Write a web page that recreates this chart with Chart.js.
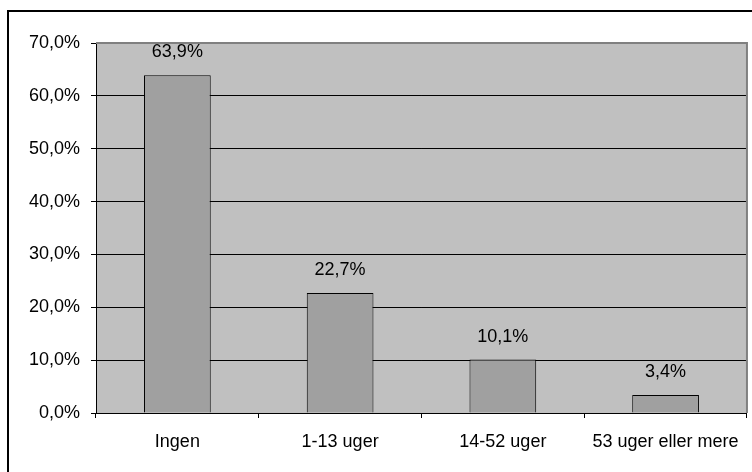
<!DOCTYPE html>
<html>
<head>
<meta charset="utf-8">
<script src="https://cdn.jsdelivr.net/npm/chart.js@4/dist/chart.umd.min.js"></script>
<style>
  html, body { margin: 0; padding: 0; background: #ffffff; }
  #wrap { position: relative; width: 752px; height: 472px; overflow: hidden; }
  canvas { display: block; }
</style>
</head>
<body>
<div id="wrap"><canvas id="c" width="752" height="472"></canvas></div>
<script>
// Duration categories and share of respondents (%)
const categories = ['Ingen', '1-13 uger', '14-52 uger', '53 uger eller mere'];
const shares = [63.9, 22.7, 10.1, 3.4];
const yTicks = [0, 10, 20, 30, 40, 50, 60, 70];

const FONT = '"Liberation Sans", Arial, sans-serif';
const FONT_SIZE = 18;
const pct = v => v.toFixed(1).replace('.', ',') + '%';

// Frame around the chart and grey plot background
const framePlugin = {
  id: 'frame',
  beforeDraw(chart) {
    const { ctx, chartArea: a } = chart;
    ctx.save();
    ctx.fillStyle = '#c0c0c0';
    ctx.fillRect(a.left, a.top, a.right - a.left, a.bottom - a.top);
    // outer frame (left and top edges)
    ctx.fillStyle = '#000000';
    ctx.fillRect(7, 10, 2, 472);
    ctx.fillRect(7, 10, 760, 2);
    ctx.restore();
  },
  afterDraw(chart) {
    const { ctx, chartArea: a } = chart;
    ctx.save();
    ctx.strokeStyle = '#808080';
    ctx.lineWidth = 2;
    ctx.beginPath();
    ctx.moveTo(a.left, a.top);
    ctx.lineTo(a.right, a.top);
    ctx.lineTo(a.right, a.bottom);
    ctx.stroke();
    ctx.restore();
  }
};

// Value labels above each bar
const valueLabels = {
  id: 'valueLabels',
  afterDatasetsDraw(chart) {
    const { ctx } = chart;
    const meta = chart.getDatasetMeta(0);
    ctx.save();
    ctx.font = FONT_SIZE + 'px ' + FONT;
    ctx.fillStyle = '#000000';
    ctx.textAlign = 'center';
    ctx.textBaseline = 'bottom';
    meta.data.forEach((bar, i) => {
      ctx.fillText(pct(shares[i]), bar.x, bar.y - 14);
    });
    ctx.restore();
  }
};

new Chart(document.getElementById('c'), {
  type: 'bar',
  data: {
    labels: categories,
    datasets: [{
      data: shares,
      backgroundColor: '#a0a0a0',
      borderColor: '#000000',
      borderWidth: 1,
      categoryPercentage: 1,
      barPercentage: 0.41
    }]
  },
  options: {
    responsive: false,
    animation: false,
    devicePixelRatio: 1,
    layout: { padding: { left: 0, top: 43, right: 3, bottom: 0 } },
    plugins: {
      legend: { display: false },
      tooltip: { enabled: false },
      title: { display: false }
    },
    scales: {
      x: {
        grid: {
          drawOnChartArea: false,
          drawTicks: true,
          tickLength: 5,
          tickColor: '#000000',
          offset: true
        },
        border: { display: true, color: '#000000', width: 1 },
        ticks: {
          color: '#000000',
          font: { family: FONT, size: FONT_SIZE },
          padding: 13,
          maxRotation: 0,
          autoSkip: false
        },
        afterFit(scale) { scale.height = 59; }
      },
      y: {
        min: 0,
        max: 70,
        afterBuildTicks(scale) { scale.ticks = yTicks.map(v => ({ value: v })); },
        grid: {
          color: ctx => (ctx.tick && ctx.tick.value === 70) ? 'rgba(0,0,0,0)' : '#000000',
          tickColor: '#000000',
          tickLength: 5,
          lineWidth: 1
        },
        border: { display: true, color: '#000000', width: 1 },
        ticks: {
          color: '#000000',
          font: { family: FONT, size: FONT_SIZE },
          padding: 11,
          callback: v => pct(v)
        },
        afterFit(scale) { scale.width = 96; }
      }
    }
  },
  plugins: [framePlugin, valueLabels]
});
</script>
</body>
</html>
